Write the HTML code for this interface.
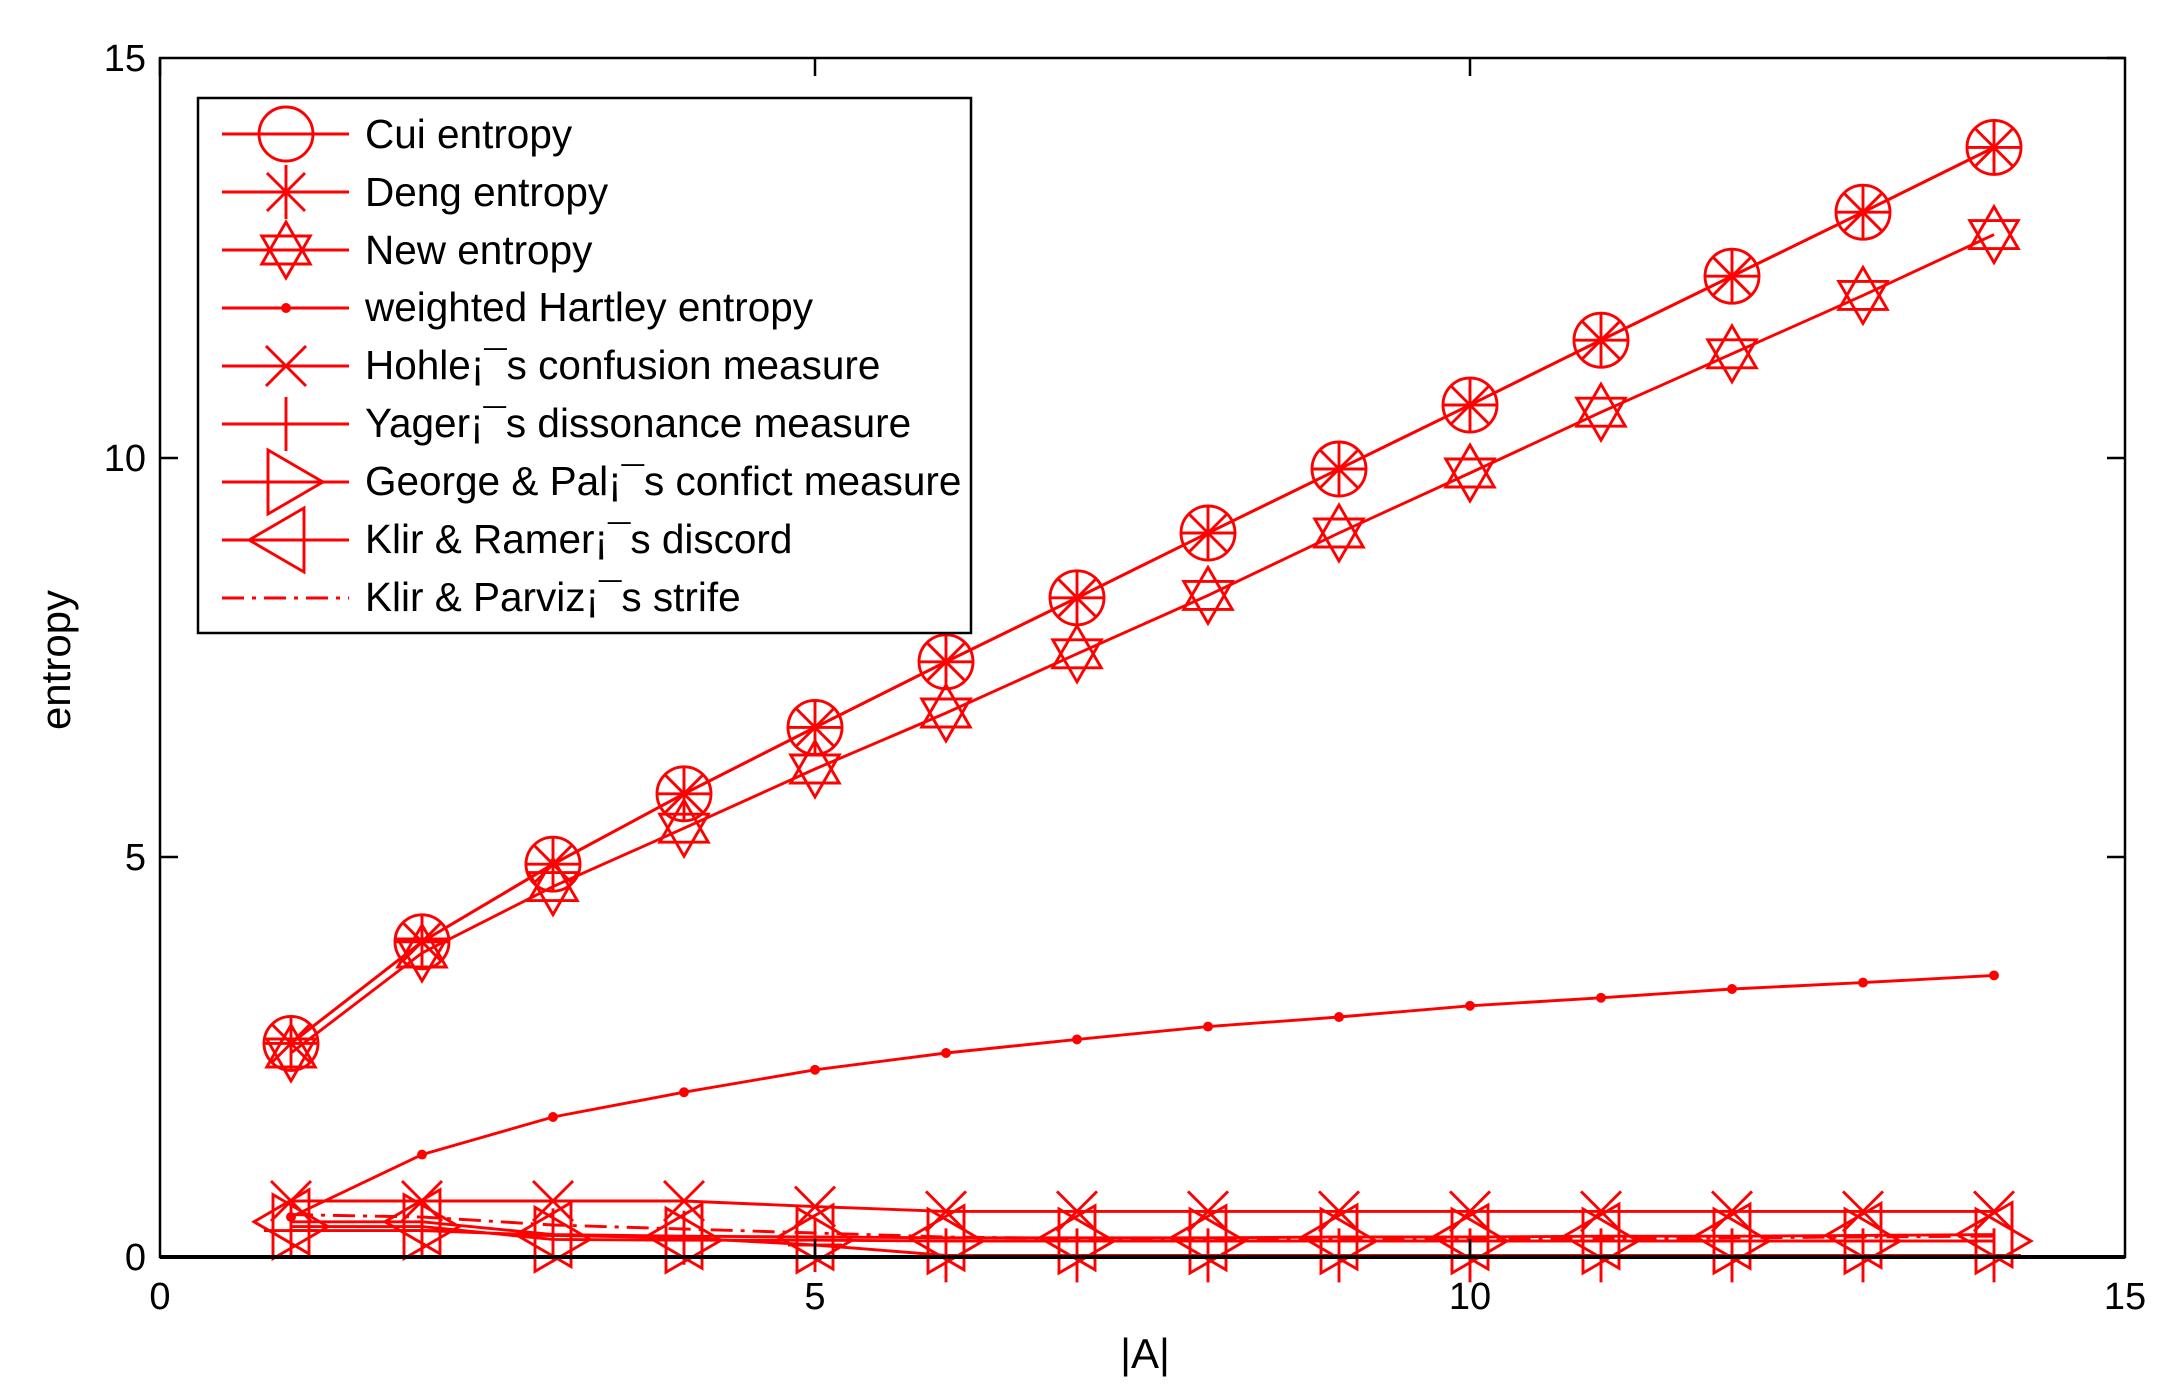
<!DOCTYPE html>
<html><head><meta charset="utf-8"><style>
html,body{margin:0;padding:0;background:#fff;}
svg{display:block;}
text{font-family:"Liberation Sans",Arial,sans-serif;fill:#000;}
</style></head><body>
<svg id="s" width="2170" height="1388" viewBox="0 0 2170 1388" xmlns="http://www.w3.org/2000/svg">
<rect width="2170" height="1388" fill="#fff"/>
<g id="plot" fill="none" stroke="#f00" stroke-width="2.9"></g>
<g stroke="#000" stroke-width="2.5" fill="none">
<rect x="160" y="58" width="1965" height="1199"/>
<path d="M160,58v18M815,58v18M1470,58v18M815,1257v-18M1470,1257v-18M160,458h18M160,857h18M2125,458h-18M2125,857h-18M2125,58h-18"/>
<path d="M160,1257H2125" stroke-width="4"/>
</g>
<g font-size="38">
<text x="146" y="71" text-anchor="end">15</text>
<text x="146" y="471" text-anchor="end">10</text>
<text x="146" y="870" text-anchor="end">5</text>
<text x="146" y="1270" text-anchor="end">0</text>
<text x="160" y="1309" text-anchor="middle">0</text>
<text x="815" y="1309" text-anchor="middle">5</text>
<text x="1470" y="1309" text-anchor="middle">10</text>
<text x="2125" y="1309" text-anchor="middle">15</text>
<text x="1145" y="1368" text-anchor="middle" font-size="42">|A|</text>
<text transform="translate(70,660) rotate(-90)" text-anchor="middle" font-size="42">entropy</text>
</g>
<rect x="198" y="98" width="773" height="535" fill="#fff" stroke="#000" stroke-width="2.5"/>
<g id="leg" fill="none" stroke="#f00" stroke-width="2.9"></g>
<g font-size="40.5">
<text x="365" y="148">Cui entropy</text>
<text x="365" y="206">Deng entropy</text>
<text x="365" y="264">New entropy</text>
<text x="365" y="321">weighted Hartley entropy</text>
<text x="365" y="379">Hohle¡¯s confusion measure</text>
<text x="365" y="437">Yager¡¯s dissonance measure</text>
<text x="365" y="495">George &amp; Pal¡¯s confict measure</text>
<text x="365" y="553">Klir &amp; Ramer¡¯s discord</text>
<text x="365" y="611">Klir &amp; Parviz¡¯s strife</text>
</g>
<script>
var NS="http://www.w3.org/2000/svg";
function X(v){return 160+131*v;}
function Y(v){return 1257-80*v;}
function el(g,t,a){var e=document.createElementNS(NS,t);for(var k in a)e.setAttribute(k,a[k]);g.appendChild(e);return e;}
function mk(g,type,x,y){
 var r=27;
 if(type=='o')el(g,'circle',{cx:x,cy:y,r:r});
 else if(type=='*'){el(g,'path',{d:'M'+x+','+(y-r)+'v'+(2*r)+'M'+(x-r)+','+y+'h'+(2*r)+'M'+(x-19)+','+(y-19)+'l38,38M'+(x-19)+','+(y+19)+'l38,-38'});}
 else if(type=='h'){var p1=[],p2=[],R=28;for(var i=0;i<3;i++){var a=-Math.PI/2+i*2*Math.PI/3;p1.push((x+R*Math.cos(a))+','+(y+R*Math.sin(a)));a+=Math.PI;p2.push((x+R*Math.cos(a))+','+(y+R*Math.sin(a)));}
  el(g,'polygon',{points:p1.join(' ')});el(g,'polygon',{points:p2.join(' ')});}
 else if(type=='.')el(g,'circle',{cx:x,cy:y,r:3.5,fill:'#f00'});
 else if(type=='x')el(g,'path',{d:'M'+(x-20)+','+(y-20)+'l40,40M'+(x-20)+','+(y+20)+'l40,-40'});
 else if(type=='+')el(g,'path',{d:'M'+x+','+(y-27)+'v54M'+(x-27)+','+y+'h54'});
 else if(type=='>')el(g,'polygon',{points:(x-18)+','+(y-32)+' '+(x-18)+','+(y+32)+' '+(x+37)+','+y});
 else if(type=='<')el(g,'polygon',{points:(x+18)+','+(y-32)+' '+(x+18)+','+(y+32)+' '+(x-37)+','+y});
}
var S=[
 ['o',[2.67,3.94,4.91,5.79,6.62,7.44,8.24,9.05,9.85,10.65,11.46,12.26,13.06,13.87],''],
 ['*',[2.67,3.94,4.91,5.79,6.62,7.44,8.24,9.05,9.85,10.65,11.46,12.26,13.06,13.87],''],
 ['h',[2.55,3.80,4.63,5.36,6.10,6.80,7.54,8.27,9.05,9.80,10.56,11.29,12.02,12.78],''],
 ['.',[0.5,1.28,1.75,2.06,2.34,2.55,2.72,2.88,3.0,3.14,3.24,3.35,3.43,3.52],''],
 ['x',[0.70,0.70,0.70,0.70,0.63,0.57,0.57,0.57,0.57,0.57,0.57,0.57,0.57,0.57],''],
 ['+',[0.33,0.33,0.27,0.24,0.15,0.02,0.02,0.02,0.02,0.02,0.02,0.02,0.02,0.02],''],
 ['>',[0.38,0.38,0.22,0.21,0.21,0.20,0.20,0.20,0.20,0.20,0.20,0.20,0.20,0.20],''],
 ['<',[0.44,0.44,0.28,0.26,0.25,0.24,0.24,0.24,0.25,0.25,0.26,0.26,0.27,0.28],''],
 ['',[0.53,0.50,0.40,0.35,0.30,0.25,0.23,0.22,0.22,0.22,0.23,0.24,0.25,0.26],'22,8,4,8']
];
var g=document.getElementById('plot'),L=document.getElementById('leg');
S.forEach(function(s,i){
 var pts=s[1].map(function(v,j){return X(j+1)+','+Y(v);}).join(' ');
 var a={points:pts};if(s[2])a['stroke-dasharray']=s[2];
 el(g,'polyline',a);
 if(s[0])s[1].forEach(function(v,j){mk(g,s[0],X(j+1),Y(v));});
 var ly=134+58*i;
 var b={x1:222,y1:ly,x2:349,y2:ly};if(s[2])b['stroke-dasharray']=s[2];
 el(L,'line',b);
 if(s[0])mk(L,s[0],286,ly);
});
</script>
</svg>
</body></html>
